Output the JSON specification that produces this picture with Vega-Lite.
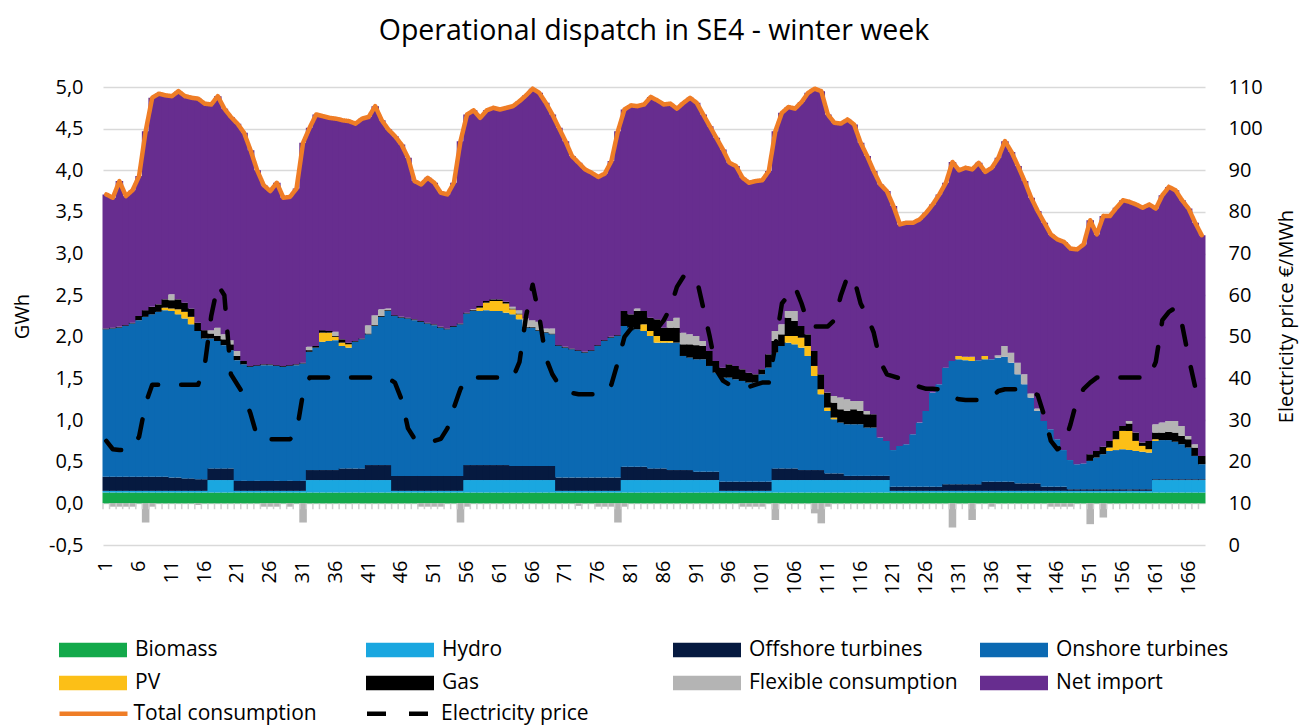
{
"$schema": "https://vega.github.io/schema/vega-lite/v6.json",
"autosize": {"type": "none"},
"padding": {"left": 103, "top": 87, "right": 95, "bottom": 180},
"width": 1102,
"height": 458,
"title": {"text": "Operational dispatch in SE4 - winter week", "font": "Open Sans", "fontSize": 28.5, "fontWeight": "normal", "color": "black", "offset": 32, "anchor": "middle"},
"datasets": {
"series": [
{"key":"bio","label":"Biomass","ord":1},
{"key":"hyd","label":"Hydro","ord":2},
{"key":"off","label":"Offshore turbines","ord":3},
{"key":"on","label":"Onshore turbines","ord":4},
{"key":"pv","label":"PV","ord":5},
{"key":"gas","label":"Gas","ord":6},
{"key":"flex","label":"Flexible consumption","ord":7},
{"key":"flexn","label":"Flexible consumption","ord":8},
{"key":"imp","label":"Net import","ord":9}
],
"hours": [
{"h":1,"bio":0.13,"hyd":0.02,"off":0.17,"on":1.77,"gas":0.01,"imp":1.61,"tot":3.71,"p":25},
{"h":2,"bio":0.13,"hyd":0.02,"off":0.17,"on":1.78,"gas":0.01,"flexn":-0.04,"imp":1.56,"tot":3.67,"p":23},
{"h":3,"bio":0.13,"hyd":0.02,"off":0.17,"on":1.79,"gas":0.01,"flexn":-0.04,"imp":1.75,"tot":3.87,"p":22.8},
{"h":4,"bio":0.13,"hyd":0.02,"off":0.17,"on":1.81,"gas":0.01,"flexn":-0.04,"imp":1.55,"tot":3.69,"p":22.8},
{"h":5,"bio":0.13,"hyd":0.02,"off":0.17,"on":1.84,"gas":0.01,"flexn":-0.04,"imp":1.59,"tot":3.76,"p":23.5},
{"h":6,"bio":0.13,"hyd":0.02,"off":0.17,"on":1.88,"gas":0.05,"imp":1.68,"tot":3.93,"p":26},
{"h":7,"bio":0.13,"hyd":0.02,"off":0.17,"on":1.92,"gas":0.08,"flexn":-0.23,"imp":2.15,"tot":4.47,"p":34},
{"h":8,"bio":0.13,"hyd":0.02,"off":0.17,"on":1.95,"gas":0.09,"flexn":-0.04,"imp":2.51,"tot":4.87,"p":38.5},
{"h":9,"bio":0.13,"hyd":0.02,"off":0.17,"on":1.98,"gas":0.09,"imp":2.53,"tot":4.92,"p":38.5},
{"h":10,"bio":0.13,"hyd":0.02,"off":0.17,"on":2.00,"pv":0.03,"gas":0.10,"imp":2.45,"tot":4.90,"p":38.5},
{"h":11,"bio":0.13,"hyd":0.02,"off":0.16,"on":2.00,"pv":0.03,"gas":0.10,"flex":0.07,"imp":2.38,"tot":4.89,"p":38.5},
{"h":12,"bio":0.13,"hyd":0.02,"off":0.16,"on":1.96,"pv":0.06,"gas":0.12,"imp":2.50,"tot":4.95,"p":38.5},
{"h":13,"bio":0.13,"hyd":0.02,"off":0.15,"on":1.92,"pv":0.08,"gas":0.11,"imp":2.48,"tot":4.89,"p":38.5},
{"h":14,"bio":0.13,"hyd":0.02,"off":0.15,"on":1.85,"pv":0.09,"gas":0.10,"imp":2.53,"tot":4.87,"p":38.5},
{"h":15,"bio":0.13,"hyd":0.02,"off":0.14,"on":1.78,"gas":0.10,"flexn":-0.02,"imp":2.69,"tot":4.86,"p":38.5},
{"h":16,"bio":0.13,"hyd":0.02,"off":0.14,"on":1.69,"gas":0.10,"imp":2.72,"tot":4.80,"p":43},
{"h":17,"bio":0.13,"hyd":0.15,"off":0.14,"on":1.56,"gas":0.06,"flex":0.04,"imp":2.71,"tot":4.79,"p":55},
{"h":18,"bio":0.13,"hyd":0.15,"off":0.14,"on":1.53,"gas":0.06,"flex":0.10,"imp":2.78,"tot":4.89,"p":62.5},
{"h":19,"bio":0.13,"hyd":0.15,"off":0.14,"on":1.48,"gas":0.07,"flex":0.06,"imp":2.71,"tot":4.74,"p":60},
{"h":20,"bio":0.13,"hyd":0.15,"off":0.14,"on":1.42,"gas":0.07,"flex":0.05,"imp":2.68,"tot":4.64,"p":41},
{"h":21,"bio":0.13,"hyd":0.02,"off":0.12,"on":1.45,"gas":0.05,"flex":0.06,"imp":2.73,"tot":4.56,"p":38.5},
{"h":22,"bio":0.13,"hyd":0.02,"off":0.12,"on":1.40,"gas":0.04,"imp":2.74,"tot":4.45,"p":36},
{"h":23,"bio":0.13,"hyd":0.02,"off":0.12,"on":1.37,"gas":0.01,"imp":2.59,"tot":4.24,"p":31.5},
{"h":24,"bio":0.13,"hyd":0.02,"off":0.12,"on":1.38,"gas":0.01,"imp":2.34,"tot":4.00,"p":26},
{"h":25,"bio":0.13,"hyd":0.02,"off":0.12,"on":1.39,"gas":0.01,"flexn":-0.04,"imp":2.15,"tot":3.82,"p":25.4},
{"h":26,"bio":0.13,"hyd":0.02,"off":0.12,"on":1.39,"gas":0.01,"flexn":-0.04,"imp":2.08,"tot":3.75,"p":25.4},
{"h":27,"bio":0.13,"hyd":0.02,"off":0.12,"on":1.38,"gas":0.01,"flexn":-0.04,"imp":2.19,"tot":3.85,"p":25.4},
{"h":28,"bio":0.13,"hyd":0.02,"off":0.12,"on":1.37,"gas":0.01,"imp":2.02,"tot":3.67,"p":25.4},
{"h":29,"bio":0.13,"hyd":0.02,"off":0.12,"on":1.38,"gas":0.01,"flexn":-0.04,"imp":2.02,"tot":3.68,"p":25.4},
{"h":30,"bio":0.13,"hyd":0.02,"off":0.12,"on":1.39,"gas":0.01,"imp":2.11,"tot":3.78,"p":27},
{"h":31,"bio":0.13,"hyd":0.02,"off":0.12,"on":1.41,"gas":0.01,"flexn":-0.23,"imp":2.64,"tot":4.33,"p":36.5},
{"h":32,"bio":0.13,"hyd":0.15,"off":0.12,"on":1.42,"gas":0.02,"flex":0.04,"imp":2.63,"tot":4.51,"p":40.2},
{"h":33,"bio":0.13,"hyd":0.15,"off":0.12,"on":1.47,"gas":0.02,"imp":2.78,"tot":4.67,"p":40.2},
{"h":34,"bio":0.13,"hyd":0.15,"off":0.12,"on":1.54,"pv":0.11,"gas":0.03,"imp":2.57,"tot":4.65,"p":40.2},
{"h":35,"bio":0.13,"hyd":0.15,"off":0.12,"on":1.55,"pv":0.10,"gas":0.02,"imp":2.56,"tot":4.63,"p":40.2},
{"h":36,"bio":0.13,"hyd":0.15,"off":0.12,"on":1.56,"pv":0.04,"gas":0.01,"flex":0.05,"imp":2.56,"tot":4.62,"p":40.2},
{"h":37,"bio":0.13,"hyd":0.15,"off":0.14,"on":1.47,"pv":0.04,"gas":0.04,"imp":2.63,"tot":4.60,"p":40.2},
{"h":38,"bio":0.13,"hyd":0.15,"off":0.14,"on":1.45,"pv":0.04,"gas":0.02,"imp":2.66,"tot":4.59,"p":40.2},
{"h":39,"bio":0.13,"hyd":0.15,"off":0.14,"on":1.52,"gas":0.01,"imp":2.61,"tot":4.56,"p":40.2},
{"h":40,"bio":0.13,"hyd":0.15,"off":0.14,"on":1.55,"gas":0.01,"imp":2.64,"tot":4.62,"p":40.2},
{"h":41,"bio":0.13,"hyd":0.15,"off":0.18,"on":1.57,"gas":0.01,"flex":0.10,"imp":2.50,"tot":4.64,"p":40.2},
{"h":42,"bio":0.13,"hyd":0.15,"off":0.18,"on":1.67,"gas":0.01,"flex":0.12,"imp":2.51,"tot":4.77,"p":40.2},
{"h":43,"bio":0.13,"hyd":0.15,"off":0.18,"on":1.78,"gas":0.01,"flex":0.08,"imp":2.27,"tot":4.60,"p":40.2},
{"h":44,"bio":0.13,"hyd":0.15,"off":0.18,"on":1.85,"gas":0.01,"flex":0.02,"imp":2.15,"tot":4.49,"p":40},
{"h":45,"bio":0.13,"hyd":0.02,"off":0.18,"on":1.92,"gas":0.01,"imp":2.15,"tot":4.41,"p":39},
{"h":46,"bio":0.13,"hyd":0.02,"off":0.18,"on":1.90,"gas":0.01,"imp":2.07,"tot":4.31,"p":35},
{"h":47,"bio":0.13,"hyd":0.02,"off":0.18,"on":1.89,"gas":0.01,"imp":1.92,"tot":4.15,"p":28},
{"h":48,"bio":0.13,"hyd":0.02,"off":0.18,"on":1.87,"gas":0.01,"imp":1.66,"tot":3.87,"p":25.5},
{"h":49,"bio":0.13,"hyd":0.02,"off":0.18,"on":1.85,"gas":0.01,"flexn":-0.04,"imp":1.64,"tot":3.83,"p":25},
{"h":50,"bio":0.13,"hyd":0.02,"off":0.18,"on":1.83,"gas":0.01,"flexn":-0.04,"imp":1.74,"tot":3.91,"p":25},
{"h":51,"bio":0.13,"hyd":0.02,"off":0.18,"on":1.81,"gas":0.01,"flexn":-0.04,"imp":1.70,"tot":3.85,"p":25},
{"h":52,"bio":0.13,"hyd":0.02,"off":0.18,"on":1.78,"gas":0.01,"flexn":-0.04,"imp":1.61,"tot":3.73,"p":25.5},
{"h":53,"bio":0.13,"hyd":0.02,"off":0.18,"on":1.76,"gas":0.01,"imp":1.61,"tot":3.71,"p":28},
{"h":54,"bio":0.13,"hyd":0.02,"off":0.18,"on":1.79,"gas":0.01,"imp":1.72,"tot":3.85,"p":33},
{"h":55,"bio":0.13,"hyd":0.02,"off":0.18,"on":1.82,"gas":0.01,"flexn":-0.23,"imp":2.19,"tot":4.35,"p":37.5},
{"h":56,"bio":0.13,"hyd":0.15,"off":0.18,"on":1.82,"gas":0.01,"flexn":-0.04,"imp":2.38,"tot":4.67,"p":40.2},
{"h":57,"bio":0.13,"hyd":0.15,"off":0.18,"on":1.85,"gas":0.01,"flex":0.01,"imp":2.39,"tot":4.72,"p":40.2},
{"h":58,"bio":0.13,"hyd":0.15,"off":0.18,"on":1.85,"pv":0.04,"gas":0.02,"imp":2.26,"tot":4.63,"p":40.2},
{"h":59,"bio":0.13,"hyd":0.15,"off":0.18,"on":1.86,"pv":0.09,"gas":0.02,"imp":2.29,"tot":4.72,"p":40.2},
{"h":60,"bio":0.13,"hyd":0.15,"off":0.18,"on":1.85,"pv":0.12,"gas":0.02,"imp":2.30,"tot":4.75,"p":40.2},
{"h":61,"bio":0.13,"hyd":0.15,"off":0.18,"on":1.85,"pv":0.12,"gas":0.02,"imp":2.28,"tot":4.73,"p":40.2},
{"h":62,"bio":0.13,"hyd":0.15,"off":0.18,"on":1.83,"pv":0.11,"gas":0.02,"imp":2.33,"tot":4.75,"p":40.2},
{"h":63,"bio":0.13,"hyd":0.15,"off":0.17,"on":1.82,"pv":0.06,"gas":0.01,"flex":0.02,"imp":2.41,"tot":4.77,"p":40.2},
{"h":64,"bio":0.13,"hyd":0.15,"off":0.17,"on":1.76,"pv":0.06,"gas":0.01,"flex":0.04,"imp":2.51,"tot":4.83,"p":44},
{"h":65,"bio":0.13,"hyd":0.15,"off":0.17,"on":1.66,"gas":0.01,"flex":0.10,"imp":2.68,"tot":4.90,"p":55},
{"h":66,"bio":0.13,"hyd":0.15,"off":0.17,"on":1.66,"gas":0.01,"flex":0.08,"imp":2.78,"tot":4.98,"p":62.5},
{"h":67,"bio":0.13,"hyd":0.15,"off":0.17,"on":1.62,"gas":0.01,"flex":0.10,"imp":2.75,"tot":4.93,"p":55},
{"h":68,"bio":0.13,"hyd":0.15,"off":0.17,"on":1.60,"gas":0.01,"flex":0.04,"imp":2.71,"tot":4.81,"p":45},
{"h":69,"bio":0.13,"hyd":0.15,"off":0.17,"on":1.58,"gas":0.01,"flex":0.06,"imp":2.57,"tot":4.67,"p":41},
{"h":70,"bio":0.13,"hyd":0.02,"off":0.16,"on":1.58,"gas":0.01,"imp":2.61,"tot":4.51,"p":38.5},
{"h":71,"bio":0.13,"hyd":0.02,"off":0.16,"on":1.56,"gas":0.01,"imp":2.47,"tot":4.35,"p":37},
{"h":72,"bio":0.13,"hyd":0.02,"off":0.16,"on":1.54,"gas":0.01,"imp":2.31,"tot":4.17,"p":36.5},
{"h":73,"bio":0.13,"hyd":0.02,"off":0.16,"on":1.52,"gas":0.01,"flexn":-0.03,"imp":2.25,"tot":4.09,"p":36.2},
{"h":74,"bio":0.13,"hyd":0.02,"off":0.16,"on":1.50,"gas":0.01,"imp":2.19,"tot":4.01,"p":36.2},
{"h":75,"bio":0.13,"hyd":0.02,"off":0.16,"on":1.52,"gas":0.01,"imp":2.13,"tot":3.97,"p":36.2},
{"h":76,"bio":0.13,"hyd":0.02,"off":0.16,"on":1.58,"gas":0.01,"flexn":-0.04,"imp":2.02,"tot":3.92,"p":36.2},
{"h":77,"bio":0.13,"hyd":0.02,"off":0.16,"on":1.64,"gas":0.01,"flexn":-0.04,"imp":2.00,"tot":3.96,"p":36.5},
{"h":78,"bio":0.13,"hyd":0.02,"off":0.16,"on":1.68,"gas":0.01,"flexn":-0.04,"imp":2.11,"tot":4.11,"p":38.5},
{"h":79,"bio":0.13,"hyd":0.02,"off":0.16,"on":1.70,"gas":0.01,"flexn":-0.23,"imp":2.45,"tot":4.47,"p":44},
{"h":80,"bio":0.13,"hyd":0.15,"off":0.16,"on":1.69,"gas":0.18,"flexn":-0.04,"imp":2.42,"tot":4.73,"p":50},
{"h":81,"bio":0.13,"hyd":0.15,"off":0.16,"on":1.67,"gas":0.16,"imp":2.51,"tot":4.78,"p":52},
{"h":82,"bio":0.13,"hyd":0.15,"off":0.16,"on":1.65,"gas":0.22,"flex":0.03,"imp":2.43,"tot":4.77,"p":52},
{"h":83,"bio":0.13,"hyd":0.15,"off":0.16,"on":1.63,"pv":0.08,"gas":0.16,"imp":2.48,"tot":4.79,"p":52},
{"h":84,"bio":0.13,"hyd":0.15,"off":0.14,"on":1.59,"pv":0.06,"gas":0.16,"imp":2.65,"tot":4.88,"p":52},
{"h":85,"bio":0.13,"hyd":0.15,"off":0.14,"on":1.51,"pv":0.08,"gas":0.20,"imp":2.63,"tot":4.84,"p":52},
{"h":86,"bio":0.13,"hyd":0.15,"off":0.14,"on":1.51,"pv":0.02,"gas":0.16,"imp":2.68,"tot":4.79,"p":54},
{"h":87,"bio":0.13,"hyd":0.15,"off":0.12,"on":1.53,"pv":0.02,"gas":0.16,"flex":0.08,"imp":2.61,"tot":4.80,"p":57},
{"h":88,"bio":0.13,"hyd":0.15,"off":0.12,"on":1.53,"gas":0.18,"flex":0.12,"imp":2.51,"tot":4.74,"p":62},
{"h":89,"bio":0.13,"hyd":0.15,"off":0.12,"on":1.37,"gas":0.14,"flex":0.14,"imp":2.76,"tot":4.81,"p":64.5},
{"h":90,"bio":0.13,"hyd":0.15,"off":0.12,"on":1.35,"gas":0.16,"flex":0.12,"imp":2.84,"tot":4.87,"p":64.5},
{"h":91,"bio":0.13,"hyd":0.15,"off":0.10,"on":1.35,"gas":0.17,"flex":0.11,"imp":2.80,"tot":4.81,"p":64},
{"h":92,"bio":0.13,"hyd":0.15,"off":0.10,"on":1.35,"gas":0.16,"flex":0.06,"imp":2.72,"tot":4.67,"p":57},
{"h":93,"bio":0.13,"hyd":0.15,"off":0.10,"on":1.27,"gas":0.18,"imp":2.70,"tot":4.53,"p":50},
{"h":94,"bio":0.13,"hyd":0.15,"off":0.10,"on":1.19,"gas":0.14,"imp":2.68,"tot":4.39,"p":42},
{"h":95,"bio":0.13,"hyd":0.02,"off":0.11,"on":1.25,"gas":0.12,"imp":2.62,"tot":4.25,"p":39.5},
{"h":96,"bio":0.13,"hyd":0.02,"off":0.11,"on":1.25,"gas":0.16,"imp":2.42,"tot":4.09,"p":38.5},
{"h":97,"bio":0.13,"hyd":0.02,"off":0.11,"on":1.23,"gas":0.16,"imp":2.40,"tot":4.05,"p":38},
{"h":98,"bio":0.13,"hyd":0.02,"off":0.11,"on":1.21,"gas":0.14,"flexn":-0.04,"imp":2.30,"tot":3.91,"p":38},
{"h":99,"bio":0.13,"hyd":0.02,"off":0.11,"on":1.19,"gas":0.12,"flexn":-0.04,"imp":2.28,"tot":3.85,"p":38},
{"h":100,"bio":0.13,"hyd":0.02,"off":0.11,"on":1.19,"gas":0.10,"flexn":-0.04,"imp":2.32,"tot":3.87,"p":38.5},
{"h":101,"bio":0.13,"hyd":0.02,"off":0.11,"on":1.29,"gas":0.06,"flexn":-0.04,"imp":2.27,"tot":3.88,"p":39},
{"h":102,"bio":0.13,"hyd":0.02,"off":0.11,"on":1.37,"gas":0.16,"imp":2.20,"tot":3.99,"p":39},
{"h":103,"bio":0.13,"hyd":0.15,"off":0.14,"on":1.39,"gas":0.14,"flex":0.12,"flexn":-0.20,"imp":2.40,"tot":4.47,"p":48},
{"h":104,"bio":0.13,"hyd":0.15,"off":0.14,"on":1.47,"gas":0.14,"flex":0.12,"imp":2.54,"tot":4.69,"p":58},
{"h":105,"bio":0.13,"hyd":0.15,"off":0.14,"on":1.51,"pv":0.08,"gas":0.22,"flex":0.08,"imp":2.45,"tot":4.76,"p":60},
{"h":106,"bio":0.13,"hyd":0.15,"off":0.14,"on":1.49,"pv":0.10,"gas":0.18,"flex":0.12,"imp":2.43,"tot":4.74,"p":62},
{"h":107,"bio":0.13,"hyd":0.15,"off":0.12,"on":1.47,"pv":0.12,"gas":0.14,"imp":2.69,"tot":4.82,"p":58},
{"h":108,"bio":0.13,"hyd":0.15,"off":0.12,"on":1.37,"pv":0.12,"gas":0.14,"imp":2.90,"tot":4.93,"p":53},
{"h":109,"bio":0.13,"hyd":0.15,"off":0.12,"on":1.13,"pv":0.12,"gas":0.18,"flexn":-0.12,"imp":3.15,"tot":4.98,"p":52.5},
{"h":110,"bio":0.13,"hyd":0.15,"off":0.12,"on":0.91,"pv":0.06,"gas":0.18,"flexn":-0.24,"imp":3.40,"tot":4.95,"p":52.5},
{"h":111,"bio":0.13,"hyd":0.15,"off":0.08,"on":0.75,"pv":0.04,"gas":0.18,"flexn":-0.04,"imp":3.34,"tot":4.67,"p":52.5},
{"h":112,"bio":0.13,"hyd":0.15,"off":0.08,"on":0.65,"pv":0.02,"gas":0.18,"flex":0.08,"imp":3.28,"tot":4.57,"p":54},
{"h":113,"bio":0.13,"hyd":0.15,"off":0.08,"on":0.61,"gas":0.16,"flex":0.14,"imp":3.29,"tot":4.56,"p":60},
{"h":114,"bio":0.13,"hyd":0.15,"off":0.05,"on":0.62,"gas":0.16,"flex":0.14,"imp":3.36,"tot":4.61,"p":64.5},
{"h":115,"bio":0.13,"hyd":0.15,"off":0.05,"on":0.62,"gas":0.18,"flex":0.10,"imp":3.32,"tot":4.55,"p":64},
{"h":116,"bio":0.13,"hyd":0.15,"off":0.05,"on":0.62,"gas":0.16,"flex":0.12,"imp":3.10,"tot":4.33,"p":58},
{"h":117,"bio":0.13,"hyd":0.15,"off":0.05,"on":0.58,"gas":0.16,"flex":0.04,"imp":3.06,"tot":4.17,"p":55},
{"h":118,"bio":0.13,"hyd":0.15,"off":0.05,"on":0.58,"gas":0.16,"imp":2.92,"tot":3.99,"p":51},
{"h":119,"bio":0.13,"hyd":0.15,"off":0.05,"on":0.46,"imp":3.04,"tot":3.83,"p":44},
{"h":120,"bio":0.13,"hyd":0.15,"off":0.05,"on":0.42,"imp":3.00,"tot":3.75,"p":41},
{"h":121,"bio":0.13,"hyd":0.02,"off":0.05,"on":0.44,"imp":2.93,"tot":3.57,"p":40.5},
{"h":122,"bio":0.13,"hyd":0.02,"off":0.05,"on":0.49,"imp":2.66,"tot":3.35,"p":40},
{"h":123,"bio":0.13,"hyd":0.02,"off":0.05,"on":0.51,"imp":2.66,"tot":3.37,"p":39},
{"h":124,"bio":0.13,"hyd":0.02,"off":0.05,"on":0.63,"imp":2.54,"tot":3.37,"p":38.5},
{"h":125,"bio":0.13,"hyd":0.02,"off":0.05,"on":0.77,"imp":2.44,"tot":3.41,"p":38},
{"h":126,"bio":0.13,"hyd":0.02,"off":0.05,"on":0.91,"imp":2.38,"tot":3.49,"p":37.5},
{"h":127,"bio":0.13,"hyd":0.02,"off":0.05,"on":1.13,"imp":2.26,"tot":3.59,"p":37.5},
{"h":128,"bio":0.13,"hyd":0.02,"off":0.05,"on":1.23,"imp":2.28,"tot":3.71,"p":37.4},
{"h":129,"bio":0.13,"hyd":0.02,"off":0.08,"on":1.40,"imp":2.22,"tot":3.85,"p":37},
{"h":130,"bio":0.13,"hyd":0.02,"off":0.08,"on":1.48,"flexn":-0.29,"imp":2.39,"tot":4.10,"p":35.5},
{"h":131,"bio":0.13,"hyd":0.02,"off":0.08,"on":1.50,"pv":0.04,"imp":2.23,"tot":4.00,"p":35},
{"h":132,"bio":0.13,"hyd":0.02,"off":0.08,"on":1.49,"pv":0.04,"imp":2.27,"tot":4.03,"p":34.8},
{"h":133,"bio":0.13,"hyd":0.02,"off":0.08,"on":1.48,"pv":0.05,"flexn":-0.20,"imp":2.25,"tot":4.01,"p":34.8},
{"h":134,"bio":0.13,"hyd":0.02,"off":0.08,"on":1.49,"imp":2.37,"tot":4.09,"p":34.8},
{"h":135,"bio":0.13,"hyd":0.02,"off":0.11,"on":1.47,"pv":0.04,"imp":2.21,"tot":3.98,"p":34.8},
{"h":136,"bio":0.13,"hyd":0.02,"off":0.11,"on":1.47,"flexn":-0.04,"imp":2.30,"tot":4.03,"p":35.5},
{"h":137,"bio":0.13,"hyd":0.02,"off":0.11,"on":1.49,"flex":0.03,"imp":2.37,"tot":4.15,"p":37},
{"h":138,"bio":0.13,"hyd":0.02,"off":0.11,"on":1.50,"flex":0.13,"imp":2.46,"tot":4.35,"p":37.4},
{"h":139,"bio":0.13,"hyd":0.02,"off":0.11,"on":1.43,"flex":0.12,"imp":2.41,"tot":4.22,"p":37.4},
{"h":140,"bio":0.13,"hyd":0.02,"off":0.09,"on":1.31,"flex":0.14,"imp":2.36,"tot":4.05,"p":37.4},
{"h":141,"bio":0.13,"hyd":0.02,"off":0.09,"on":1.19,"flex":0.12,"imp":2.32,"tot":3.87,"p":37.4},
{"h":142,"bio":0.13,"hyd":0.02,"off":0.09,"on":1.03,"flex":0.05,"imp":2.35,"tot":3.67,"p":37},
{"h":143,"bio":0.13,"hyd":0.02,"off":0.09,"on":0.87,"flex":0.03,"imp":2.37,"tot":3.51,"p":36},
{"h":144,"bio":0.13,"hyd":0.02,"off":0.05,"on":0.79,"imp":2.38,"tot":3.37,"p":31},
{"h":145,"bio":0.13,"hyd":0.02,"off":0.05,"on":0.69,"flexn":-0.04,"imp":2.34,"tot":3.23,"p":25},
{"h":146,"bio":0.13,"hyd":0.02,"off":0.05,"on":0.57,"flexn":-0.04,"imp":2.40,"tot":3.17,"p":23},
{"h":147,"bio":0.13,"hyd":0.02,"off":0.05,"on":0.44,"flexn":-0.04,"imp":2.50,"tot":3.14,"p":24},
{"h":148,"bio":0.13,"hyd":0.02,"off":0.02,"on":0.35,"flexn":-0.04,"imp":2.54,"tot":3.06,"p":29},
{"h":149,"bio":0.13,"hyd":0.02,"off":0.02,"on":0.30,"imp":2.58,"tot":3.05,"p":35},
{"h":150,"bio":0.13,"hyd":0.02,"off":0.02,"on":0.31,"imp":2.63,"tot":3.11,"p":37.5},
{"h":151,"bio":0.13,"hyd":0.02,"off":0.02,"on":0.34,"gas":0.08,"flexn":-0.25,"imp":2.81,"tot":3.40,"p":39},
{"h":152,"bio":0.13,"hyd":0.02,"off":0.02,"on":0.38,"gas":0.08,"imp":2.60,"tot":3.23,"p":40.2},
{"h":153,"bio":0.13,"hyd":0.02,"off":0.02,"on":0.42,"gas":0.09,"flexn":-0.17,"imp":2.77,"tot":3.45,"p":40.2},
{"h":154,"bio":0.13,"hyd":0.02,"off":0.02,"on":0.46,"pv":0.04,"gas":0.08,"imp":2.70,"tot":3.45,"p":40.2},
{"h":155,"bio":0.13,"hyd":0.02,"off":0.02,"on":0.47,"pv":0.13,"gas":0.10,"imp":2.68,"tot":3.55,"p":40.2},
{"h":156,"bio":0.13,"hyd":0.02,"off":0.02,"on":0.48,"pv":0.22,"gas":0.06,"imp":2.71,"tot":3.64,"p":40.2},
{"h":157,"bio":0.13,"hyd":0.02,"off":0.02,"on":0.47,"pv":0.23,"gas":0.09,"flex":0.03,"imp":2.63,"tot":3.62,"p":40.2},
{"h":158,"bio":0.13,"hyd":0.02,"off":0.02,"on":0.46,"pv":0.12,"gas":0.10,"imp":2.74,"tot":3.59,"p":40.2},
{"h":159,"bio":0.13,"hyd":0.02,"off":0.02,"on":0.45,"pv":0.07,"gas":0.04,"imp":2.82,"tot":3.55,"p":40.2},
{"h":160,"bio":0.13,"hyd":0.02,"off":0.02,"on":0.44,"pv":0.04,"gas":0.10,"imp":2.84,"tot":3.59,"p":40.2},
{"h":161,"bio":0.13,"hyd":0.15,"off":0.01,"on":0.46,"pv":0.02,"gas":0.08,"flex":0.10,"imp":2.59,"tot":3.54,"p":44},
{"h":162,"bio":0.13,"hyd":0.15,"off":0.01,"on":0.47,"gas":0.09,"flex":0.12,"imp":2.73,"tot":3.70,"p":54},
{"h":163,"bio":0.13,"hyd":0.15,"off":0.01,"on":0.47,"gas":0.10,"flex":0.13,"imp":2.81,"tot":3.80,"p":56},
{"h":164,"bio":0.13,"hyd":0.15,"off":0.01,"on":0.45,"gas":0.11,"flex":0.14,"imp":2.77,"tot":3.76,"p":57},
{"h":165,"bio":0.13,"hyd":0.15,"off":0.01,"on":0.42,"gas":0.10,"flex":0.12,"imp":2.71,"tot":3.64,"p":53},
{"h":166,"bio":0.13,"hyd":0.15,"off":0.01,"on":0.38,"gas":0.10,"flex":0.04,"imp":2.73,"tot":3.54,"p":45},
{"h":167,"bio":0.13,"hyd":0.15,"off":0.01,"on":0.28,"gas":0.10,"flex":0.04,"imp":2.66,"tot":3.37,"p":38},
{"h":168,"bio":0.13,"hyd":0.15,"off":0.01,"on":0.18,"gas":0.10,"imp":2.65,"tot":3.22,"p":33}
]
},
"data": {"name": "hours"},
"layer": [
{
"layer": [
{
"transform": [
{"fold": ["bio","hyd","off","on","pv","gas","flex","flexn","imp"], "as": ["key","value"]},
{"filter": "datum.value != null"},
{"lookup": "key", "from": {"data": {"name": "series"}, "key": "key", "fields": ["label","ord"]}}
],
"mark": {"type": "bar", "width": {"band": 1.15}},
"encoding": {
"x": {"field": "h", "type": "ordinal", "scale": {"paddingInner": 0, "paddingOuter": 0},
"axis": {"values": [1,6,11,16,21,26,31,36,41,46,51,56,61,66,71,76,81,86,91,96,101,106,111,116,121,126,131,136,141,146,151,156,161,166], "labelAngle": -90, "title": null, "labelPadding": 15, "labelOverlap": false, "ticks": false, "domain": false}},
"y": {"field": "value", "type": "quantitative", "stack": "zero", "scale": {"domain": [-0.5, 5], "nice": false},
"axis": {"values": [-0.5,0,0.5,1,1.5,2,2.5,3,3.5,4,4.5,5], "grid": true, "gridColor": "#d9d9d9", "gridWidth": 1.5, "labelExpr": "replace(replace(format(datum.value, '.1f'), '.', ','), '−', '-')", "labelPadding": 20, "title": "GWh", "titlePadding": 16}},
"color": {"field": "label", "type": "nominal",
"scale": {"domain": ["Biomass","Hydro","Offshore turbines","Onshore turbines","PV","Gas","Flexible consumption","Net import"],
"range": ["#13a94b","#1aa7e0","#061a40","#0b69b2","#fcbf17","#000000","#b4b4b4","#672d8f"]},
"legend": {"orient": "none", "legendX": -27, "legendY": 546, "direction": "horizontal", "columns": 4, "title": null, "symbolType": "M-2,-0.42H2V0.42H-2Z", "symbolSize": 1156, "symbolStrokeWidth": 0, "labelOffset": 25, "labelFontSize": 21, "columnPadding": 22, "rowPadding": 6, "gridAlign": "all", "padding": 0}},
"order": {"field": "ord", "type": "quantitative"}
}
},
{
"mark": {"type": "rule", "color": "#d0d0d0", "strokeWidth": 1.5},
"encoding": {
"x": {"field": "h", "type": "ordinal", "bandPosition": 0},
"y": {"datum": 0},
"y2": {"datum": -0.07}
}
},
{
"mark": {"type": "line", "strokeWidth": 4.5, "strokeJoin": "round", "strokeCap": "round"},
"encoding": {
"x": {"field": "h", "type": "ordinal"},
"y": {"field": "tot", "type": "quantitative"},
"stroke": {"datum": "Total consumption", "scale": {"domain": ["Total consumption","Electricity price"], "range": ["#ef7d26","#000000"]},
"legend": {"orient": "none", "legendX": -46, "legendY": 590, "direction": "horizontal", "columns": 4, "title": null, "symbolType": "stroke", "symbolSize": 4624, "symbolStrokeWidth": 4.5, "labelOffset": 3.5, "labelFontSize": 21, "columnPadding": 40.5, "gridAlign": "all", "padding": 0}},
"strokeDash": {"datum": "Total consumption", "scale": {"domain": ["Total consumption","Electricity price"], "range": [[1,0],[19,23]]},
"legend": {"orient": "none", "legendX": -46, "legendY": 590, "direction": "horizontal", "columns": 4, "title": null, "symbolType": "stroke", "symbolSize": 4624, "symbolStrokeWidth": 4.5, "labelOffset": 3.5, "labelFontSize": 21, "columnPadding": 40.5, "gridAlign": "all", "padding": 0}}
}
}
]
},
{
"mark": {"type": "line", "strokeWidth": 4.5, "strokeCap": "round", "strokeJoin": "round"},
"encoding": {
"x": {"field": "h", "type": "ordinal"},
"y": {"field": "p", "type": "quantitative", "scale": {"domain": [0, 110], "nice": false},
"axis": {"orient": "right", "values": [0,10,20,30,40,50,60,70,80,90,100,110], "grid": false, "labelPadding": 23, "title": "Electricity price €/MWh", "titleAngle": 270, "titlePadding": 34}},
"stroke": {"datum": "Electricity price", "scale": {"domain": ["Total consumption","Electricity price"], "range": ["#ef7d26","#000000"]},
"legend": {"orient": "none", "legendX": -46, "legendY": 590, "direction": "horizontal", "columns": 4, "title": null, "symbolType": "stroke", "symbolSize": 4624, "symbolStrokeWidth": 4.5, "labelOffset": 3.5, "labelFontSize": 21, "columnPadding": 40.5, "gridAlign": "all", "padding": 0}},
"strokeDash": {"datum": "Electricity price", "scale": {"domain": ["Total consumption","Electricity price"], "range": [[1,0],[19,23]]},
"legend": {"orient": "none", "legendX": -46, "legendY": 590, "direction": "horizontal", "columns": 4, "title": null, "symbolType": "stroke", "symbolSize": 4624, "symbolStrokeWidth": 4.5, "labelOffset": 3.5, "labelFontSize": 21, "columnPadding": 40.5, "gridAlign": "all", "padding": 0}}
}
}
],
"resolve": {"scale": {"y": "independent"}},
"config": {
"view": {"stroke": null},
"font": "Open Sans",
"axis": {"labelFont": "Open Sans", "labelFontSize": 20, "labelColor": "black", "titleFont": "Open Sans", "titleFontSize": 20, "titleFontWeight": "normal", "titleColor": "black", "domain": false, "ticks": false},
"legend": {"labelFont": "Open Sans", "labelFontSize": 21, "labelColor": "black", "labelLimit": 500}
}
}
